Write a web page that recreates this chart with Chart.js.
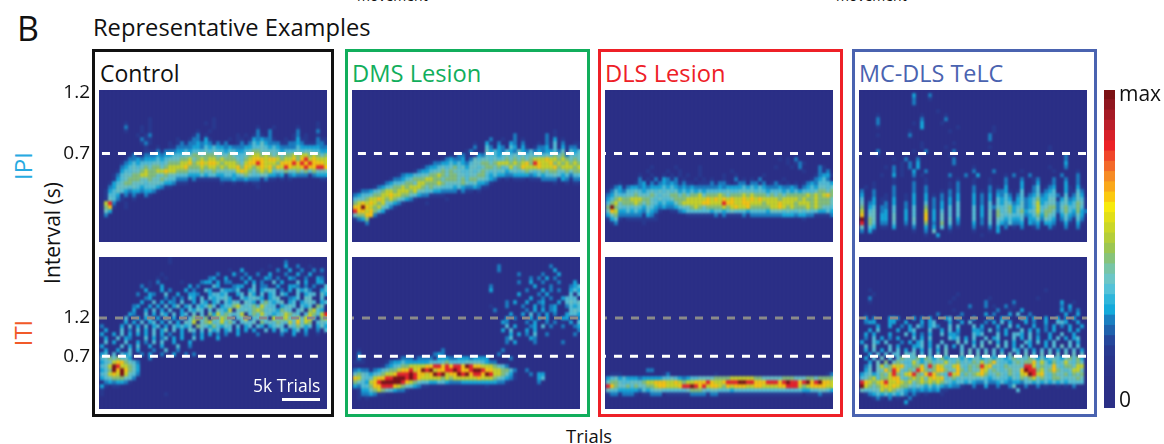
<!DOCTYPE html>
<html>
<head>
<meta charset="utf-8">
<script src="https://cdn.jsdelivr.net/npm/chart.js@4"></script>
<style>
html, body { margin: 0; padding: 0; background: #fff; width: 1164px; height: 444px; overflow: hidden; }
body { font-family: "Open Sans", sans-serif; color: #111; position: relative; }
canvas { position: absolute; }
.box { position: absolute; top: 49px; height: 362px; border: 3px solid; box-sizing: content-box; }
.txt { position: absolute; white-space: nowrap; line-height: 1; }
.rot { transform: translate(-50%, -50%) rotate(-90deg); }
</style>
</head>
<body>
<div class="txt" style="left:357px;top:-11px;font-size:14px">movement</div>
<div class="txt" style="left:836px;top:-11px;font-size:14px">movement</div>
<div class="txt" style="left:17px;top:11px;font-size:34px">B</div>
<div class="txt" style="left:93px;top:16px;font-size:23.7px">Representative Examples</div>

<div class="box" style="left:92px;width:236px;border-color:#111"></div>
<div class="box" style="left:345px;width:239px;border-color:#11ae5c"></div>
<div class="box" style="left:598px;width:239px;border-color:#ee2027"></div>
<div class="box" style="left:852px;width:239px;border-color:#4a63b0"></div>

<div class="txt" style="left:100px;top:62px;font-size:23px;color:#111">Control</div>
<div class="txt" style="left:352px;top:62px;font-size:23.7px;color:#11ae5c">DMS Lesion</div>
<div class="txt" style="left:605px;top:62px;font-size:23.7px;color:#ee2027">DLS Lesion</div>
<div class="txt" style="left:859px;top:62px;font-size:23.4px;color:#4a63b0">MC-DLS TeLC</div>

<div class="txt rot" style="left:23px;top:166px;font-size:24px;color:#27aae1">IPI</div>
<div class="txt rot" style="left:23px;top:333px;font-size:24px;color:#f15a29">ITI</div>
<div class="txt rot" style="left:52px;top:233px;font-size:21px">Interval (s)</div>
<div class="txt" style="left:566px;top:427px;font-size:18.5px">Trials</div>

<canvas id="ipi1"></canvas><canvas id="ipi2"></canvas><canvas id="ipi3"></canvas><canvas id="ipi4"></canvas>
<canvas id="iti1"></canvas><canvas id="iti2"></canvas><canvas id="iti3"></canvas><canvas id="iti4"></canvas>
<canvas id="cbar"></canvas>

<div class="txt" style="left:253px;top:377px;font-size:17.5px;color:#fff;z-index:5">5k Trials</div>
<div style="position:absolute;left:282px;top:398px;width:38px;height:3px;background:#fff;z-index:5"></div>

<script>
//--- Data (one string per row, top to bottom, digit = intensity 0..a)
var colormap = ['#2b2f86','#2b2f86','#2b3087','#2a328a','#29358c','#283a90','#25479b','#1f62ad','#1a7fc1','#14aadb','#2fb6db',
    '#54c2d8','#6cc6c6','#78c5a6','#87c37a','#9cc652','#b4ce3a','#cad728','#e1df18','#f7ea0c','#fbc90f','#faa81a','#f68b25',
    '#f3692a','#f0462a','#ec2227','#d62029','#bb1f2b','#a51a25','#90161f','#7c1113'];
var heatLevels = [0, 5, 8, 9, 11, 12, 14, 17, 20, 25, 30];
var intervalTicks = [0.7, 1.2];
var colorbarTicks = ['0', 'max'];
var colorbarTickValues = [0.7, 30.5];

var ipiControl = ['','','','','','','',
'000000000000100000000000000010000000000000000000000000000',
'000000100000100000000000001010000000000000000000000000100',
'000000200010100000000000000010000000000100010000010000100',
'000000100010100000000000100100000000000200200000020000200',
'000000000101200000000001201000000010101210200000120100100',
'000000000021100000010012203100001011013232210010131100211',
'000000000012100001012122323212120012124353222112232111221',
'000000000001001001122223324343323222334454343222243333322',
'000000000001112122233434445454434433456655554344454554433',
'000000012112223233444556656665556544567767656566767767656',
'000000122323334345556675676776766654678887887677868978777',
'000001234344455456667786787887677765788987776888989898887',
'000002345456566567777866676776767786876787868798778988998',
'000013445567667787766655565565555578765676745565565646555',
'000124556677665565544433343443344345654455332312322212333',
'000134566655655654422212111111222322322212110101000000011',
'001345665554555433211100000000100100101100000000000000000',
'002355545434443211000000000000000000000100',
'013454323323321000000000000000000000000',
'014431212102100',
'015421001',
'079200100',
'068100100',
'053',
'02'];

var itiControl = [
'00000000000000000100000000',
'000000000000000001000000000000000000000000000020',
'000000000000000000000000000000000000000000100030020010',
'000000000000000000000000000000001003000010002003002002020',
'000000000000000100000000000002000310200200300020031030010',
'000000000000001010000000000230030002030013202003200200320',
'000000000000102000001000023303022000303020040300040300330',
'000000000020100300000030200043000233004022003003320202004',
'000000000003000302000302004300433240034034440203043420034',
'000000000200320040030033200344340034053040340430040344053',
'000000000002300020202043040434453004345430345002340550040',
'000000000030040303204003043034043540543046434503403454034',
'000000002300303040350340434640344675456475440345404340650',
'000000003003040304003043540405437054546764543654045067430',
'000000032004030430403405040637465457046475434576540476479',
'000000400303403040304046746064765045804545075675475784067',
'000000303040340304030547056745746404545064546547585760454',
'200003040304034030434340654364354040340430345405465340353',
'030004020403040350403054040534034030303004030430340300204',
'300304030303040302003002030302020030000200000200300200100',
'030040320004030240303004030003',
'040300400302040400300030',
'300004030400300300040020',
'030030040300020040020',
'340404340020300200300202',
'456564530000200',
'345788654200',
'457a97765300',
'346a8a86530',
'45787a7542',
'34566654200',
'02323321',
'31011',
'1',
'1000000000000000100'];

var ipiDms = ['','','','','','','','','','',
'00000000000000000000000000000000000000000000000000100000',
'000000000000000000000000000000000000000020000000201',
'000000000000000000000000000000000020010020100000203010',
'000000000000000000000000000000100310200320200010214020011',
'000000000000000000000000000000200420320431310122314031221',
'000000000000000000000000000012100534324325324232334251434',
'000000000000000000000000102210132444345454545454546562545',
'000000000000000000000012322312545545456565656777877676565',
'000000000000000000012233434324556656777676786987786767676',
'000000000000000001233454564535545665645756877787778677767',
'000000000000000123345565655445456545453454565456566556566',
'000000000001233445566765665545566434332233332343445434244',
'000000000122345666776656665646655432101011101112222132122',
'000000012344566577666765555654533210000000000000001001011',
'000001234566767776565544434322321100',
'01223456776777675544332222121101',
'23445667787766543221111',
'45567787676543210000000100',
'67878767543210000010',
'88a87675421',
'98878643100',
'56688210',
'12360',
'00020'];

var itiDms = ['','',
'000000000000000000000000000000000000200000000000020',
'000000000000000000000000000000000000200000000000003',
'000000000000000000000000000000000000000002000002000300',
'000000000000000000000000000000000000000000002020302',
'000000000000000000000000000000000000000002003002000200030',
'000000000000000000000000000000000020000000000300020000234',
'000000000000000000000000000000000030000000020003020200343',
'000000000000000000000000000000000000000003000020300000404',
'000000000000000000000000000000000000000000003002020034440',
'000000000000000000000000000000000000002030030023000304545',
'000000000000000000000000000000000010002000200302023002434',
'000000000000000000000000000000000002000000020303023000454',
'000000000000000000000000000000000000000300304020302003443',
'000000000000000000000000000000000000003020003030300033002',
'000000000000000000000000000000000000032000020300202000304',
'000000000000000000000000000000000000004030002304020020023',
'000000000000000000000000000000000000030400030300000000002',
'000000000000000000000000000000000000000303020400200000020',
'000000000000000000000000000000000000002400003200',
'000000000000000000000000000000000000002030000200000020',
'',
'0100000000000000000000200000000000000200',
'020000000000000000002320000000000000200',
'021000000001222122221333223332333300000200',
'111000001233433333344456444455554322',
'0000000123456677778899898998a98877765420',
'23221234566788978a9a78899a9889aa98877664200200',
'56543456778999a98878a9a788a9a8998a97765310002033',
'8754578899aaa9a987777767677777787776543210000034',
'6543789aaaaa98765443344322233333333322100000002',
'324468899987654321100000000000000100',
'01335676543221',
'012232110',
'01010'];

var ipiDls = ['','','','','','','','','','','','','','','','','',
'000000000000000000000000000000000000000000010102',
'000000000000000000000000000000000000000000000101210',
'000000000001000001000001000000000000000000100010200002100',
'000000000010000100100001000000010000000000000000010002120',
'000000001001001010101001000001001000000100000000000012331',
'000000002010203212010010101001002010102000001000000123420',
'000100012302123232121101112122101220221201210101012324443',
'012312332323334343232322222232333343434322232232123435545',
'124324454345454545343434344444544555545434443434344456656',
'235445565556545566565667566676566676766656565666667676786',
'346766777665454456667777787878787787878777767777676676665',
'467566676565434335677777887779887788777677787776777676665',
'6a6545454354323223455676566667678778666667787676667676554',
'587334343243210011234444443443454443444435554544545443343',
'356222222132100000001111111212111121222222223332332211112',
'134101111111100000000000000000000000000000000000010',
'0120000001'];

var itiDls = ['','','','','','','','','','','','','','','','','','','','','','','','','','','','',
'00000000002200',
'011100000000001200000000000100000000000000000000000000012',
'345343332333334454323445555666677777766555556665556656666',
'566544555677888778767788898778999aa9988899989a9989a89a887',
'986556465566788777899a98978876878887788777788999767888877',
'544333332434554444445666545544434444444444444444433445543',
'122122210112220111111222212211111111111111111111101112111'];

var ipiTelc = ['',
'0000000000000300020',
'0000000000000200010',
'000000000000020',
'',
'00000000000000000001',
'00001000000000010000010',
'0000200000000002000002',
'00002000000001030000100',
'000010000000000300000000100000000100',
'00000000000010000000001000000000010',
'00001000000020000000000000000000200',
'00000000000000000000000000000000200',
'00000000000000010000000100',
'00000000000000010000010000000000100000000000000100',
'00002000000001002000000200000000000000000000000100',
'00001000000000000000001000000000000000000000000000020',
'00000000100200200000000200000000000000000000000000020',
'00000000001020300000000200000000000000000000000000030',
'000000102010203000000000000010000000000000000001000200',
'000000002010030020000000000020000200000010000000100000100',
'000001003010020100000020002003000000102000200000002000200',
'000000001000010010000000100010001000200020012000200200200',
'000100001000020010000010200010001000200030013001200300200',
'010100002000020020000010200020002010300030024012300310310',
'200200002000020020001020200020102022310140124123400311420',
'300200102001030030102020300030203032420241235234421412530',
'401301103001030030202030300030203043431342346335513523541',
'502301203002030040203030400030204143542352357345524534651',
'603402204002040060203040400040304254563452347456625644641',
'704502304003040070304040400040305164563563457466524643632',
'805503305003040080305040400040305165454452346365413532531',
'a06503305003050080305050300040205054343341335254312421420',
'906402204002040060206040200030204043242230323133201310310',
'504301103001020030304020100020102030201020012002100200200',
'203100000000010020500010000010001030',
'000000000000000010030000000000100'];

var itiTelc = ['','','','','','','','',
'001000000000000000000000000000000000000000000010',
'0001000000000000000000001',
'00200000000000000000000100000000100000000000100',
'00100000000000000000001000000002000000200000000000300100',
'00000000000000000000000000020002010020100000000000203',
'00000000000000000000000100000000002001003000000000302020',
'01000000000000000002000002000003020003040020000000030030',
'03020003320003020300034030003000300330004303003003020300',
'02330003300300030340003003040002030403000302003004430030',
'00003003002030420342004040004030003004030003002030203003',
'00304000030034000400304030003320402030004030302030003030',
'03030003000403020300403320004340004030443040200300400300',
'02040302030004030400004340304004034000403040300304030340',
'30043040002030340300400050403040503040300430403040004030',
'04050004030003340304040304004050005040304030003040504040',
'03040304040304030403050004050404040300430403040403040403',
'00304040440545040405050005050505040505040504050505050505',
'03040504046554636535634453535534535434645465353454356463',
'00305060565447535645575464546575685443565668575364575465',
'02405746878546685968755785465697845465555997565585466577',
'03505586985465986568865586465587565456558a99675686545775',
'345346579657896589865497846567864565465478a9785465564656',
'45674667885467675787845645455454345443546567565466545565',
'98767897787675676767654344343224223432332443434343434444',
'a7656787876654543534323221002003002002500200201001010200',
'54455767654323232323110000000000000000040',
'012343434342121010001',
'00012102010020',
'000000000003'];

//--- Internal functions
var COLS = 57, ROWS = 38;

// navy under the cells, and soften them before the dashed lines go on top
var blurCells = {
    id: 'blurCells',
    beforeDatasetsDraw: function (chart) {
        var a = chart.chartArea;
        chart.ctx.fillStyle = colormap[0];
        chart.ctx.fillRect(a.left, a.top, a.right - a.left, a.bottom - a.top);
    },
    afterDatasetDraw: function (chart, args) {
        if (args.index !== 2) return;
        var a = chart.chartArea, ctx = chart.ctx;
        ctx.save();
        ctx.beginPath();
        ctx.rect(a.left, a.top, a.right - a.left, a.bottom - a.top);
        ctx.clip();
        ctx.filter = 'blur(1px)';
        ctx.drawImage(chart.canvas, 0, 0);
        ctx.restore();
    }
};

function dashLine(range, yValue, color, offset) {
    return {
        type: 'line', xAxisID: 'x2', yAxisID: 'y2',
        data: [{ x: range[0], y: yValue }, { x: range[1], y: yValue }],
        borderColor: color, borderWidth: 3, borderDash: [8, 8], borderDashOffset: offset,
        pointRadius: 0, fill: false
    };
}

function heatChart(id, left, top, rows, yRange, dashes, showTicks) {
    var pad = 12;
    var axisW = showTicks ? 40 : 0;
    var canvas = document.getElementById(id);
    canvas.width = 228 + axisW;
    canvas.height = 152 + pad;
    canvas.style.left = (left - axisW) + 'px';
    canvas.style.top = (top - pad) + 'px';

    var labels = [];
    for (var c = 0; c < COLS; c++) labels.push(c);

    var datasets = dashes.slice();
    // padding so that the bar index stays 2 in every panel
    while (datasets.length < 2) datasets.push(dashLine([0, 0], 0, 'rgba(0,0,0,0)', 0));
    for (var r = ROWS - 1; r >= 0; r--) {
        var row = rows[r] || '';
        var colors = [], ones = [];
        for (var k = 0; k < COLS; k++) {
            var ch = row.charAt(k) || '0';
            colors.push(colormap[heatLevels[parseInt(ch, 36)]]);
            ones.push(1);
        }
        datasets.push({
            type: 'bar', xAxisID: 'x', yAxisID: 'y', data: ones, backgroundColor: colors,
            borderWidth: 0, barPercentage: 1, categoryPercentage: 1, stack: 'heat', inflateAmount: 0.8
        });
    }

    return new Chart(canvas, {
        data: { labels: labels, datasets: datasets },
        plugins: [blurCells],
        options: {
            responsive: false, animation: false, events: [],
            layout: { padding: { top: pad, left: 0, right: 0, bottom: 0 } },
            plugins: { legend: { display: false }, tooltip: { enabled: false } },
            scales: {
                x: { display: false, stacked: true, offset: true },
                x2: { type: 'linear', display: false, min: 0, max: 1 },
                y: { display: false, stacked: true, min: 0, max: ROWS },
                y2: {
                    type: 'linear', display: showTicks, position: 'left', min: yRange[0], max: yRange[1],
                    grid: { display: false, drawTicks: false }, border: { display: false },
                    afterBuildTicks: function (scale) { scale.ticks = intervalTicks.map(function (v) { return { value: v }; }); },
                    afterFit: function (scale) { scale.width = axisW; scale.paddingTop = 0; scale.paddingBottom = 0; },
                    ticks: { color: '#111', padding: 9, font: { family: 'Open Sans', size: 19 }, autoSkip: false,
                        callback: function (v) { return v.toFixed(1); } }
                }
            }
        }
    });
}

var ipiRange = [-0.034, 1.225];
var itiRange = [0.009, 2.0];
var full = [0, 1], inner = [0.013, 0.96];

heatChart('ipi1', 99, 90, ipiControl, ipiRange, [dashLine(inner, 0.7, '#fff', 0)], true);
heatChart('ipi2', 352, 90, ipiDms, ipiRange, [dashLine([0.026, 0.975], 0.7, '#fff', 0)], false);
heatChart('ipi3', 605, 90, ipiDls, ipiRange, [dashLine(full, 0.7, '#fff', 7)], false);
heatChart('ipi4', 859, 90, ipiTelc, ipiRange, [dashLine(full, 0.7, '#fff', 5)], false);

heatChart('iti1', 99, 257, itiControl, itiRange, [dashLine(inner, 0.7, '#fff', 0), dashLine(full, 1.2, '#8a8a8a', 0)], true);
heatChart('iti2', 352, 257, itiDms, itiRange, [dashLine([0.026, 0.975], 0.7, '#fff', 0), dashLine(full, 1.2, '#8a8a8a', 6)], false);
heatChart('iti3', 605, 257, itiDls, itiRange, [dashLine(full, 0.7, '#fff', 7), dashLine(full, 1.2, '#8a8a8a', 6)], false);
heatChart('iti4', 859, 257, itiTelc, itiRange, [dashLine(full, 0.7, '#fff', 5), dashLine(full, 1.2, '#8a8a8a', 1)], false);

//--- Colour bar
var cbar = document.getElementById('cbar');
cbar.width = 60; cbar.height = 342;
cbar.style.left = '1104px'; cbar.style.top = '78px';
new Chart(cbar, {
    type: 'bar',
    data: {
        labels: ['level'],
        datasets: colormap.map(function (col) {
            return { data: [1], backgroundColor: col, borderWidth: 0, barPercentage: 1, categoryPercentage: 1, inflateAmount: 1 };
        })
    },
    options: {
        responsive: false, animation: false, events: [],
        layout: { padding: { top: 12, bottom: 12 } },
        plugins: { legend: { display: false }, tooltip: { enabled: false } },
        scales: {
            x: { display: false, stacked: true },
            y: {
                stacked: true, position: 'right', min: 0, max: colormap.length,
                grid: { display: false, drawTicks: false }, border: { display: false },
                afterBuildTicks: function (scale) { scale.ticks = colorbarTickValues.map(function (v) { return { value: v }; }); },
                afterFit: function (scale) { scale.width = 49; scale.paddingTop = 0; scale.paddingBottom = 0; },
                ticks: { color: '#111', padding: 4, font: { family: 'Open Sans', size: 21 }, autoSkip: false,
                    callback: function (v) { return colorbarTicks[colorbarTickValues.indexOf(v)]; } }
            }
        }
    }
});
</script>
</body>
</html>
